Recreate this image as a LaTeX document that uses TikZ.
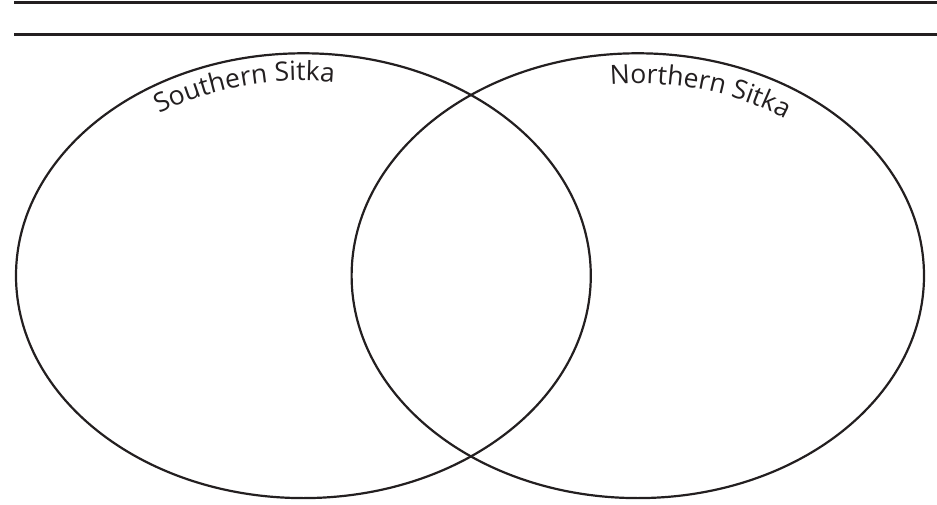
\documentclass[tikz,border=0pt]{standalone}
\usepackage{fontspec}
\newfontfamily\labelfont{Open Sans}
\usetikzlibrary{decorations.text}
\definecolor{ink}{HTML}{231F20}
\tikzset{
  rule/.style={draw=ink, line width=2.6pt},
  vennset/.style={draw=ink, line width=2.2pt},
  arclabel/.style={decorate, decoration={text along path, text align=center, text color=ink}}
}
\begin{document}
\begin{tikzpicture}[x=1pt,y=1pt]
\useasboundingbox (0,0) rectangle (937,504);
\coordinate (lc) at (303.4,228.3);
\coordinate (rc) at (637.8,228.3);
\draw[rule] (14,501.5) -- (937,501.5);
\draw[rule] (14,469.7) -- (937,469.7);
\draw[vennset] (lc) ellipse [x radius=287.4, y radius=222.4];
\draw[vennset] (rc) ellipse [x radius=286.2, y radius=222.4];
\path[arclabel, decoration={text={|\labelfont\fontsize{26.5}{26.5}\selectfont|Southern Sitka}}]
  ([shift={(152:258 and 195)}]lc) arc [start angle=152, end angle=58, x radius=258, y radius=195];
\path[arclabel, decoration={text={|\labelfont\fontsize{26.5}{26.5}\selectfont|Northern Sitka}}]
  ([shift={(120:256 and 192)}]rc) arc [start angle=120, end angle=28, x radius=256, y radius=192];
\end{tikzpicture}
\end{document}
